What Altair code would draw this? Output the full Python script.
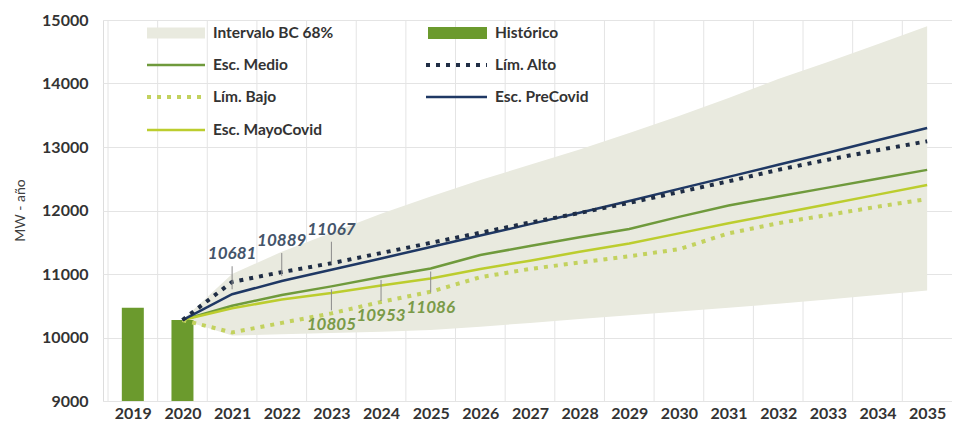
import altair as alt
import pandas as pd

# ---------------- data ----------------
axis_years = list(range(2019, 2036))
hist_years = [2019, 2020]
hist_values = [10470, 10275]

proj_years = list(range(2020, 2036))
interval_low = [10275, 10030, 10050, 10070, 10090, 10120, 10170, 10230, 10290, 10350, 10410, 10470, 10530, 10600, 10670, 10740]
interval_high = [10275, 11000, 11350, 11650, 11950, 12220, 12480, 12720, 12960, 13220, 13490, 13770, 14070, 14340, 14620, 14900]
esc_medio = [10275, 10500, 10670, 10805, 10953, 11086, 11300, 11440, 11580, 11710, 11900, 12080, 12220, 12360, 12500, 12640]
lim_alto = [10275, 10875, 11030, 11170, 11330, 11490, 11650, 11810, 11960, 12120, 12290, 12460, 12640, 12800, 12950, 13090]
lim_bajo = [10275, 10080, 10230, 10380, 10560, 10720, 10950, 11080, 11180, 11280, 11390, 11640, 11800, 11930, 12060, 12180]
esc_precovid = [10275, 10681, 10889, 11067, 11245, 11425, 11605, 11785, 11965, 12150, 12340, 12530, 12720, 12910, 13105, 13300]
esc_mayocovid = [10275, 10460, 10600, 10700, 10820, 10930, 11080, 11210, 11350, 11480, 11640, 11800, 11950, 12100, 12250, 12400]

pre_label_years = [2021, 2022, 2023]
pre_label_values = [10681, 10889, 11067]
med_label_years = [2023, 2024, 2025]
med_label_values = [10805, 10953, 11086]

legend_labels = ["Intervalo BC 68%", "Histórico", "Esc. Medio", "Lím. Alto",
                 "Lím. Bajo", "Esc. PreCovid", "Esc. MayoCovid"]

# ---------------- styles ----------------
FONT = "Lato"
C_AREA = "#e9eadf"
C_HIST = "#6b9a2d"
C_MEDIO = "#6f9a3c"
C_ALTO = "#1f2d45"
C_BAJO = "#c3d25e"
C_PRE = "#1f3864"
C_MAYO = "#bccd2e"
C_LBL_BLUE = "#44546a"
C_LBL_GREEN = "#7a9a48"
C_GRID = "#e4e4e4"
DOT = [4, 6]

xdom = [2018.5, 2035.4]
ydom = [9000, 15000]
xs = alt.Scale(domain=xdom, nice=False, zero=False)
ys = alt.Scale(domain=ydom, nice=False, zero=False)

series = pd.DataFrame({
    "year": proj_years * 5,
    "value": esc_medio + lim_alto + lim_bajo + esc_precovid + esc_mayocovid,
    "serie": (["Esc. Medio"] * 16 + ["Lím. Alto"] * 16 + ["Lím. Bajo"] * 16
              + ["Esc. PreCovid"] * 16 + ["Esc. MayoCovid"] * 16),
})
band = pd.DataFrame({"year": proj_years, "low": interval_low, "high": interval_high})
hist = pd.DataFrame({"year": hist_years, "value": hist_values})
grid_df = pd.DataFrame({"year": axis_years})
pre_lbl = pd.DataFrame({"year": pre_label_years, "value": pre_label_values})
med_lbl = pd.DataFrame({"year": med_label_years, "value": med_label_values})

X = alt.X("year:Q", scale=xs, title=None,
          axis=alt.Axis(values=axis_years, format="d", title=None, grid=False,
                        ticks=False, domain=False, labelFontSize=16, labelFont=FONT,
                        labelFontWeight="bold", labelColor="#333333", labelPadding=4,
                        labelFlush=False, labelOverlap=False))
Y = alt.Y("value:Q", scale=ys, title="MW - año",
          axis=alt.Axis(values=list(range(9000, 15001, 1000)), format="d", title="MW - año",
                        grid=True, gridColor=C_GRID, ticks=False, domain=False,
                        labelFontSize=16, labelFont=FONT, labelFontWeight="bold",
                        labelColor="#333333", labelPadding=15,
                        titleFont=FONT, titleFontSize=14, titleFontWeight="normal",
                        titleColor="#404040", titleX=-83, titleY=190, titleAngle=-90,
                        titleAlign="center", titleBaseline="middle"))

xq = alt.X("year:Q", scale=xs, title=None)
yq = alt.Y("value:Q", scale=ys, title="MW - año")

axes_layer = alt.Chart(hist).mark_point(opacity=0).encode(x=X, y=Y)

vgrid = alt.Chart(grid_df).transform_calculate(year="datum.year - 0.5").mark_rule(
    color=C_GRID, strokeWidth=1).encode(x=xq)

area = alt.Chart(band).mark_area(color=C_AREA, opacity=1).encode(
    x=xq, y=alt.Y("low:Q", scale=ys, title="MW - año"), y2="high:Q")

bars = alt.Chart(hist).mark_bar(color=C_HIST, size=22).encode(
    x=xq, y=yq, y2=alt.datum(9000))


def line(name, color, width, dash=None):
    kw = dict(color=color, strokeWidth=width)
    if dash:
        kw["strokeDash"] = dash
        kw["strokeCap"] = "butt"
    return alt.Chart(series).transform_filter(alt.datum.serie == name).mark_line(**kw).encode(
        x=xq, y=yq)


l_medio = line("Esc. Medio", C_MEDIO, 2.5)
l_mayo = line("Esc. MayoCovid", C_MAYO, 2.5)
l_bajo = line("Lím. Bajo", C_BAJO, 4, DOT)
l_pre = line("Esc. PreCovid", C_PRE, 2.5)
l_alto = line("Lím. Alto", C_ALTO, 4, DOT)

pre_rule = alt.Chart(pre_lbl).mark_rule(color="#8a8a8a", strokeWidth=1, yOffset=-5, y2Offset=-28).encode(
    x=xq, y=yq, y2="value:Q")
pre_text = alt.Chart(pre_lbl).mark_text(dy=-40, font=FONT, fontSize=17, fontStyle="italic",
                                         fontWeight="bold", color=C_LBL_BLUE).encode(
    x=xq, y=yq, text=alt.Text("value:Q", format="d"))
med_rule = alt.Chart(med_lbl).mark_rule(color="#8a8a8a", strokeWidth=1, yOffset=3, y2Offset=24).encode(
    x=xq, y=yq, y2="value:Q")
med_text = alt.Chart(med_lbl).mark_text(dy=39, font=FONT, fontSize=17, fontStyle="italic",
                                         fontWeight="bold", color=C_LBL_GREEN).encode(
    x=xq, y=yq, text=alt.Text("value:Q", format="d"))

# ---------------- legend (drawn manually, pixel layout) ----------------
COL1_X0, COL1_X1, COL1_T = 44, 102, 110
COL2_X0, COL2_X1, COL2_T = 323, 384, 392
ROWS = [13, 45, 77, 110]
leg_pos = [(COL1_T, ROWS[0]), (COL2_T, ROWS[0]), (COL1_T, ROWS[1]), (COL2_T, ROWS[1]),
           (COL1_T, ROWS[2]), (COL2_T, ROWS[2]), (COL1_T, ROWS[3])]
leg_text_df = pd.DataFrame({"label": legend_labels,
                            "px": [p[0] for p in leg_pos], "py": [p[1] for p in leg_pos]})
leg_text = alt.Chart(leg_text_df).mark_text(align="left", baseline="middle", font=FONT,
                                            fontSize=15.5, fontWeight="bold", color="#333333").encode(
    x=alt.X("px:Q", scale=None, axis=None), y=alt.Y("py:Q", scale=None, axis=None), text="label:N")

one = pd.DataFrame({"k": [0]})


def leg_rect(x0, x1, y, color, h):
    return alt.Chart(one).mark_rect(color=color).encode(
        x=alt.value(x0), x2=alt.value(x1), y=alt.value(y - h / 2), y2=alt.value(y + h / 2))


def leg_line(x0, x1, y, color, width, dash=None):
    kw = dict(color=color, strokeWidth=width)
    if dash:
        kw["strokeDash"] = dash
        kw["strokeCap"] = "butt"
    return alt.Chart(one).mark_rule(**kw).encode(x=alt.value(x0), x2=alt.value(x1), y=alt.value(y))


legend_layers = [
    leg_rect(COL1_X0, COL1_X1, ROWS[0], C_AREA, 11),
    leg_rect(COL2_X0 + 2, COL2_X1, ROWS[0], C_HIST, 12),
    leg_line(COL1_X0, COL1_X1, ROWS[1], C_MEDIO, 2.5),
    leg_line(COL2_X0, COL2_X1, ROWS[1], C_ALTO, 4, DOT),
    leg_line(COL1_X0, COL1_X1, ROWS[2], C_BAJO, 4, DOT),
    leg_line(COL2_X0, COL2_X1, ROWS[2], C_PRE, 2.5),
    leg_line(COL1_X0, COL1_X1, ROWS[3], C_MAYO, 2.5),
    leg_text,
]

chart = alt.layer(
    axes_layer, vgrid, area, bars, l_medio, l_mayo, l_bajo, l_pre, l_alto,
    pre_rule, pre_text, med_rule, med_text, *legend_layers
).properties(
    width=849, height=381,
    autosize=alt.AutoSizeParams(type="none"),
    padding={"left": 95, "top": 12, "right": 0, "bottom": 22},
).configure_view(stroke=None).configure(background="white")

chart.save("out.html", embed_options={"renderer": "svg", "actions": False})
